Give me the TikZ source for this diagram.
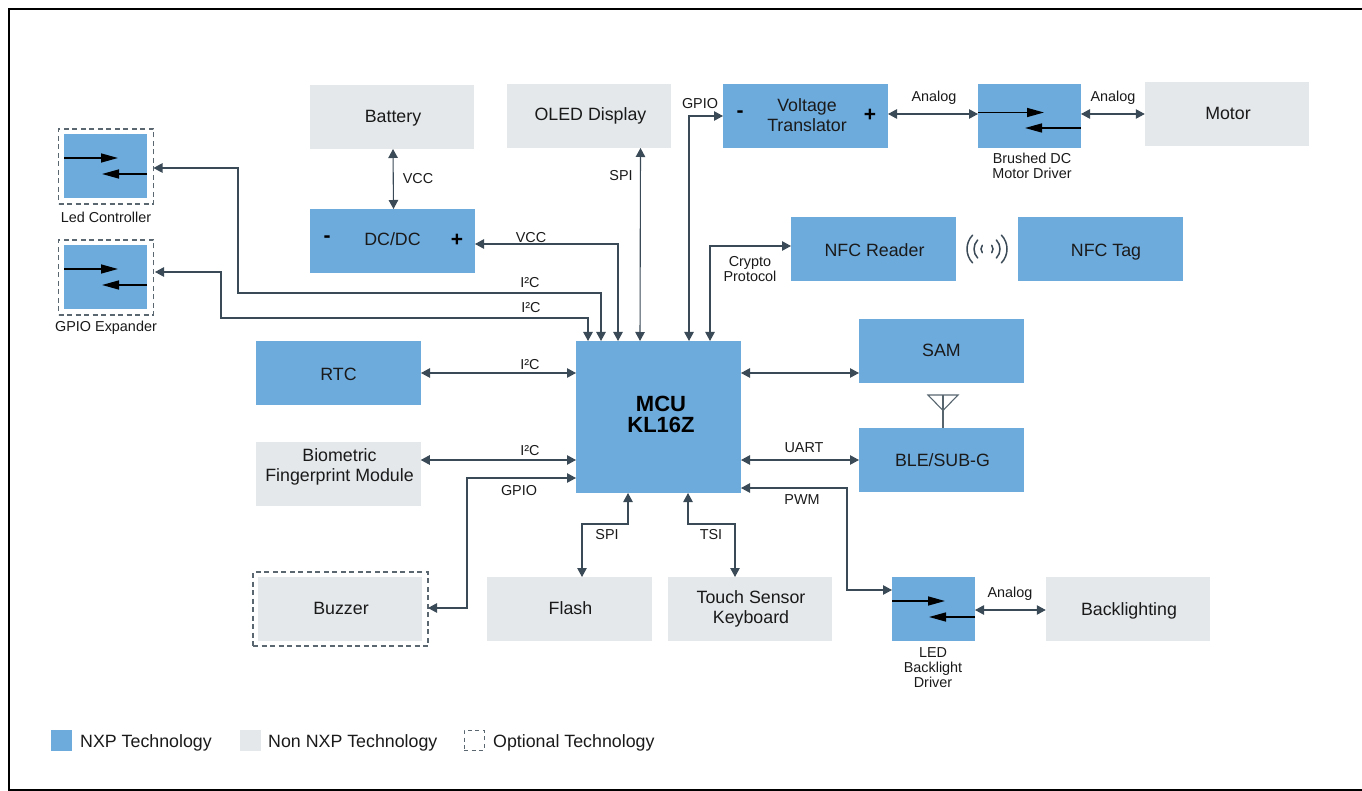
\documentclass[tikz,border=0pt]{standalone}
\usepackage{fontspec}
\setmainfont{Liberation Sans}
\usetikzlibrary{arrows.meta,calc}
\definecolor{nxp}{HTML}{6EABDD}
\definecolor{non}{HTML}{E4E8EB}
\definecolor{wire}{HTML}{3A4A56}
\definecolor{ink}{HTML}{1A1A1A}
\definecolor{dash}{HTML}{5A6670}
\newcommand\nudge[3]{\raisebox{#2pt}[12pt][0pt]{\kern#1pt\relax #3\kern-#1pt\relax}}
\tikzset{
  base/.style={inner sep=0pt,outer sep=0pt,align=center,text=ink,font=\fontsize{17.8}{20}\selectfont},
  nxpbox/.style={base,fill=nxp,minimum width=165pt,minimum height=64pt},
  nonbox/.style={base,fill=non,minimum width=164.5pt,minimum height=64pt},
  drvbox/.style={base,fill=nxp,minimum width=83pt,minimum height=64pt},
  optbox/.style={inner sep=0pt,outer sep=0pt,draw=dash,line width=1.2pt,dash pattern=on 5pt off 3.5pt},
  lbl/.style={inner sep=0pt,align=center,text=ink,font=\fontsize{14.4}{15}\selectfont},
  sign/.style={inner sep=0pt,text=black,font=\fontsize{21}{21}\selectfont\bfseries},
  legendtext/.style={inner sep=0pt,anchor=west,text=ink,font=\fontsize{17.8}{20}\selectfont},
  conn/.style={draw=wire,line width=1.1pt,{Triangle[length=9pt,width=9.5pt]}-{Triangle[length=9pt,width=9.5pt]}},
  inner/.style={draw=black,line width=1.5pt,-{Triangle[length=17pt,width=9pt]}},
  wave/.style={draw=wire,line width=1.5pt,line cap=round}
}
\begin{document}
\begin{tikzpicture}[x=1pt,y=-1pt]
\useasboundingbox (0,0) rectangle (1362,791);
% frame
\draw[black,line width=2pt] (1362,9) -- (9,9) -- (9,789.5) -- (1362,789.5);

% top row
\node[nonbox] (battery) at (392,117) {\nudge{1}{0.6}{Battery}};
\node[nonbox] (oled) at (589,116) {\nudge{1.5}{1.6}{OLED Display}};
\node[nxpbox] (vt) at (805.5,116) {\nudge{1.5}{0.6}{Voltage}\\\nudge{1.5}{0.6}{Translator}};
\node[drvbox,minimum width=103pt] (brushed) at (1029.5,116) {};
\node[nonbox] (motor) at (1227,114) {\nudge{1}{0.6}{Motor}};
\node[sign] (vtm) at (740,114) {-};
\node[sign] (vtp) at (870,115) {+};
\node[lbl] (brushedl) at (1032,166) {Brushed DC\\Motor Driver};

% left column
\node[optbox,minimum width=95pt,minimum height=75pt] (ledD) at (106,166.5) {};
\node[drvbox] (led) at (105.5,166) {};
\node[lbl] (ledl) at (106,217.5) {Led Controller};
\node[optbox,minimum width=95pt,minimum height=75pt] (gpioD) at (106,277.5) {};
\node[drvbox] (gpio) at (105.5,277) {};
\node[lbl] (gpiol) at (106,328) {GPIO Expander};

\node[nxpbox] (dcdc) at (392.5,241) {\nudge{0}{1.6}{DC/DC}};
\node[sign] (dcm) at (327,239.5) {-};
\node[sign] (dcp) at (457,240.5) {+};

% NFC
\node[nxpbox] (reader) at (873.5,249) {\nudge{1}{-1.4}{NFC Reader}};
\node[nxpbox] (tag) at (1100.5,249) {\nudge{5.5}{-1.4}{NFC Tag}};
\coordinate (w) at (987,249);
\foreach \r/\a in {20/44,13/44,6/38}{
  \draw[wave] ($(w)+({180-\a}:\r pt)$) arc[start angle=180-\a,end angle=180+\a,radius=\r pt];
  \draw[wave] ($(w)+({-\a}:\r pt)$) arc[start angle=-\a,end angle=\a,radius=\r pt];
}

% centre
\node[base,fill=nxp,minimum width=165pt,minimum height=152pt] (mcu) at (658.5,417) {};
\node[inner sep=0pt,align=center,text=black,font=\fontsize{22}{21}\selectfont\bfseries] (mcul) at (661,414) {MCU\\KL16Z};
\node[nxpbox] (sam) at (941.5,351) {\nudge{0}{0.6}{SAM}};
\node[nxpbox] (ble) at (941.5,460) {\nudge{1}{-0.4}{BLE/SUB-G}};
\node[nxpbox] (rtc) at (338.5,373) {\nudge{0}{-1.4}{RTC}};
\node[nonbox] (bio) at (338.5,474) {};
\node[inner sep=0pt,align=center,text=ink,font=\fontsize{17.8}{20}\selectfont] (biol) at (339.5,467) {Biometric\\Fingerprint Module};

% antenna
\coordinate (ant) at (943,395);
\draw[wire!85!white,line width=1.1pt] (ble.north -| ant) -- (ant);
\draw[wire!85!white,line width=1.1pt,line join=miter] (928,395) -- (958,395) -- (943,410.5) -- cycle;

% bottom row
\node[optbox,minimum width=175pt,minimum height=74pt] (buzzerD) at (340.5,609) {};
\node[nonbox] (buzzer) at (340,609) {\nudge{1}{0.6}{Buzzer}};
\node[nonbox] (flash) at (569.5,609) {\nudge{1}{0.6}{Flash}};
\node[nonbox] (touch) at (750,609) {\nudge{1}{1.6}{Touch Sensor}\\\nudge{1}{1.6}{Keyboard}};
\node[drvbox] (bl) at (933.5,609) {};
\node[lbl] (bll) at (933,667.5) {LED\\Backlight\\Driver};
\node[nonbox] (backl) at (1128,609) {\nudge{1}{-0.4}{Backlighting}};

% driver inner arrows
\draw[inner] (64,158) -- (118,158);
\draw[inner] (147,174) -- (102,174);
\draw[inner] (64,269) -- (118,269);
\draw[inner] (147,285) -- (102,285);
\draw[inner] (978,112.5) -- (1044,112.5);
\draw[inner] (1081,128) -- (1025,128);
\draw[inner] (892,601) -- (945,601);
\draw[inner] (975,617) -- (929,617);

% connectors
\draw[conn] ([xshift=1pt]battery.south) -- ([xshift=1pt]dcdc.north);
\draw[conn] (oled.south -| 640.5,0) -- ([xshift=64pt]mcu.north west);
\draw[conn] ([yshift=-3pt]dcdc.east) -- (618,244) -- ([xshift=42pt]mcu.north west);
\draw[conn] ([yshift=-1.5pt]ledD.east) -- (238,168) -- (238,293) -- (601,293) -- ([xshift=25pt]mcu.north west);
\draw[conn] ([xshift=1.5pt,yshift=5.5pt]gpioD.east) -- (221,272) -- (221,318) -- (588,318) -- ([xshift=12pt]mcu.north west);
\draw[conn] ([xshift=113pt]mcu.north west) -- (689,116) -- (vt.west);
\draw[conn] ([xshift=134pt]mcu.north west) -- (710,246) -- ([yshift=3pt]reader.west);
\draw[conn] (vt.east |- 0,114) -- (brushed.west |- 0,114);
\draw[conn] (brushed.east |- motor.east) -- (motor.west);
\draw[conn] (rtc.east) -- (mcu.west |- rtc.east);
\draw[conn] (bio.east |- 0,460) -- (mcu.west |- 0,460);
\draw[conn] (buzzerD.east |- 0,608) -- (467,608) -- (467,478) -- (mcu.west |- 0,478);
\draw[conn] ([xshift=52pt]mcu.south west) -- (628,524) -- (582,524) -- (flash.north -| 582,0);
\draw[conn] ([xshift=112pt]mcu.south west) -- (688,524) -- (735,524) -- (touch.north -| 735,0);
\draw[conn] (mcu.east |- 0,488) -- (847,488) -- (847,590) -- (bl.west |- 0,590);
\draw[conn] (mcu.east |- 0,373) -- (sam.west |- 0,373);
\draw[conn] (mcu.east |- ble.west) -- (ble.west);
\draw[conn] (bl.east |- 0,610) -- (backl.west |- 0,610);

% labels
\node[lbl] (t1) at (418,179) {VCC};
\node[lbl] (t2) at (621,176) {SPI};
\node[lbl] (t3) at (700,103.5) {GPIO};
\node[lbl] (t4) at (934,97.5) {Analog};
\node[lbl] (t5) at (1113,97.5) {Analog};
\node[lbl] (t6) at (750,269) {Crypto\\Protocol};
\node[lbl] (t7) at (531,238) {VCC};
\node[lbl] (t8) at (530,282.5) {I²C};
\node[lbl] (t9) at (531,307.5) {I²C};
\node[lbl] (t10) at (530,364.5) {I²C};
\node[lbl] (t11) at (530,450.5) {I²C};
\node[lbl] (t12) at (519,490.5) {GPIO};
\node[lbl] (t13) at (804,447.5) {UART};
\node[lbl] (t14) at (802,500) {PWM};
\node[lbl] (t15) at (607,534.5) {SPI};
\node[lbl] (t16) at (711,534.5) {TSI};
\node[lbl] (t17) at (1010,593.5) {Analog};

% legend
\node[fill=nxp,inner sep=0pt,minimum width=21pt,minimum height=21pt] (k1) at (61.5,740) {};
\node[legendtext] (k1t) at (80,743) {NXP Technology};
\node[fill=non,inner sep=0pt,minimum width=21pt,minimum height=21pt] (k2) at (250,740) {};
\node[legendtext] (k2t) at (268,743) {Non NXP Technology};
\node[draw=dash,line width=1pt,dash pattern=on 4pt off 3.5pt,inner sep=0pt,minimum width=20pt,minimum height=20pt] (k3) at (474,740) {};
\node[legendtext] (k3t) at (493,743) {Optional Technology};
\end{tikzpicture}
\end{document}
